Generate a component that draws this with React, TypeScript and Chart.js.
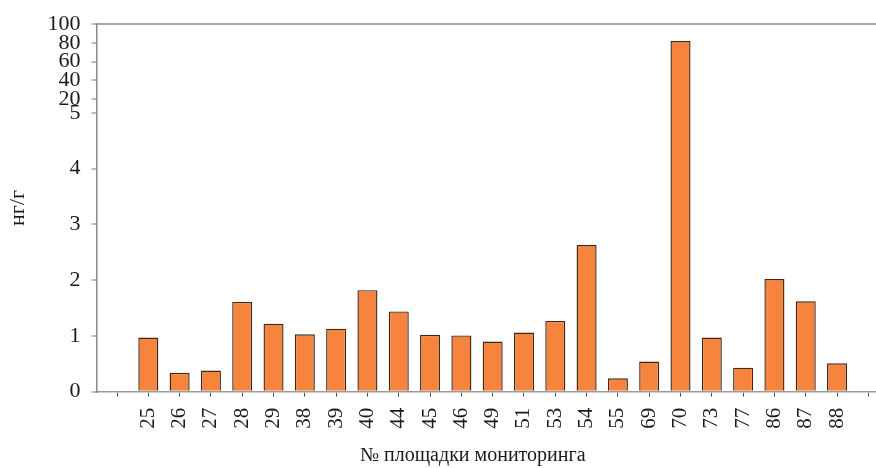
import React, { useEffect, useRef } from 'react';
import { Chart, registerables, LinearScale } from 'chart.js';

// ---- data ----
const CATEGORIES = ['25', '26', '27', '28', '29', '38', '39', '40', '44', '45', '46', '49', '51', '53', '54', '55', '69', '70', '73', '77', '86', '87', '88'];
const VALUES = [0.97, 0.34, 0.38, 1.61, 1.22, 1.03, 1.13, 1.82, 1.44, 1.02, 1.01, 0.9, 1.06, 1.27, 2.63, 0.24, 0.54, 82, 0.97, 0.43, 2.02, 1.62, 0.51];
const Y_TICKS = [0, 1, 2, 3, 4, 5, 20, 40, 60, 80, 100];
const Y_MIN = 0;
const Y_MAX = 100;
const Y_BREAK = 5;
const X_TITLE = '№ площадки мониторинга';
const Y_TITLE = 'нг/г';

// share of the axis height used by the lower (0..5) part
const LOWER_SHARE = 0.7586;

function toFraction(v: number): number {
  if (v <= Y_BREAK) return ((v - Y_MIN) / (Y_BREAK - Y_MIN)) * LOWER_SHARE;
  return LOWER_SHARE + ((v - Y_BREAK) / (Y_MAX - Y_BREAK)) * (1 - LOWER_SHARE);
}
function fromFraction(f: number): number {
  if (f <= LOWER_SHARE) return Y_MIN + (f / LOWER_SHARE) * (Y_BREAK - Y_MIN);
  return Y_BREAK + ((f - LOWER_SHARE) / (1 - LOWER_SHARE)) * (Y_MAX - Y_BREAK);
}

class BrokenLinearScale extends (LinearScale as any) {
  static id = 'brokenLinear';
  static defaults = (LinearScale as any).defaults;
  determineDataLimits() {
    this.min = Y_MIN;
    this.max = Y_MAX;
  }
  buildTicks() {
    return Y_TICKS.map((v) => ({ value: v }));
  }
  getPixelForValue(value: number) {
    if (value === null || value === undefined || isNaN(value)) return NaN;
    return this.getPixelForDecimal(toFraction(value));
  }
  getValueForPixel(pixel: number) {
    return fromFraction(this.getDecimalForPixel(pixel));
  }
}

Chart.register(...registerables, BrokenLinearScale as any);

const FONT = '"Liberation Serif", "Times New Roman", serif';
const TEXT = '#1a1a1a';

export default function App() {
  const ref = useRef<HTMLCanvasElement | null>(null);

  useEffect(() => {
    if (!ref.current) return;
    const chart = new Chart(ref.current, {
      type: 'bar',
      data: {
        datasets: [
          {
            data: VALUES.map((v, i) => ({ x: i + 1, y: v })),
            backgroundColor: '#F6843C',
            borderColor: '#3f2818',
            borderWidth: 1.4,
            barPercentage: 0.64,
            categoryPercentage: 1,
          } as any,
        ],
      },
      options: {
        animation: false,
        responsive: false,
        layout: { padding: { top: 19.3, left: 0, right: 0, bottom: 0 } },
        plugins: { legend: { display: false }, tooltip: { enabled: false } },
        scales: {
          x: {
            type: 'linear',
            min: -0.655,
            max: 24.5,
            offset: false,
            afterBuildTicks: (s: any) => {
              s.ticks = Array.from({ length: CATEGORIES.length + 2 }, (_, i) => ({ value: i }));
            },
            afterFit: (s: any) => {
              s.height = 76.3;
              s.paddingLeft = 0;
              s.paddingRight = 0;
            },
            ticks: {
              autoSkip: false,
              maxRotation: 90,
              minRotation: 90,
              padding: 11,
              color: TEXT,
              font: { family: FONT, size: 21 },
              callback: (v: any) => {
                const i = Math.round(Number(v));
                return i >= 1 && i <= CATEGORIES.length ? CATEGORIES[i - 1] : '';
              },
            },
            grid: {
              offset: false,
              drawOnChartArea: false,
              drawTicks: true,
              tickLength: 5,
              tickColor: '#555',
              tickWidth: 1,
            },
            border: { display: true, color: '#9a9a9a', width: 1.5 },
            title: {
              display: true,
              text: X_TITLE + '\u00A0\u00A0\u00A0\u00A0\u00A0\u00A0\u00A0',
              color: TEXT,
              font: { family: FONT, size: 20 },
              padding: { top: 0, bottom: 0 },
            },
          } as any,
          y: {
            type: 'brokenLinear',
            min: Y_MIN,
            max: Y_MAX,
            afterFit: (s: any) => {
              s.width = 96.5;
            },
            ticks: {
              autoSkip: false,
              padding: 11,
              color: TEXT,
              font: { family: FONT, size: 22 },
              callback: (v: any) => String(v),
            },
            grid: {
              drawOnChartArea: true,
              drawTicks: true,
              tickLength: 5,
              color: (ctx: any) => (ctx.tick && ctx.tick.value === Y_MAX ? '#a8a8a8' : 'rgba(0,0,0,0)'),
              lineWidth: 2,
              tickColor: '#777',
              tickWidth: 1,
            },
            border: { display: true, color: '#8a8a8a', width: 1.5 },
            title: {
              display: true,
              text: Y_TITLE,
              color: TEXT,
              font: { family: FONT, size: 22 },
              padding: { top: 5, bottom: 0 },
            },
          } as any,
        },
      },
    });
    return () => chart.destroy();
  }, []);

  return (
    <div style={{ position: 'fixed', left: 0, top: 0, width: 876, height: 468, overflow: 'hidden', background: '#fff' }}>
      <canvas ref={ref} width={884} height={468} style={{ display: 'block', width: 884, height: 468 }} />
    </div>
  );
}
